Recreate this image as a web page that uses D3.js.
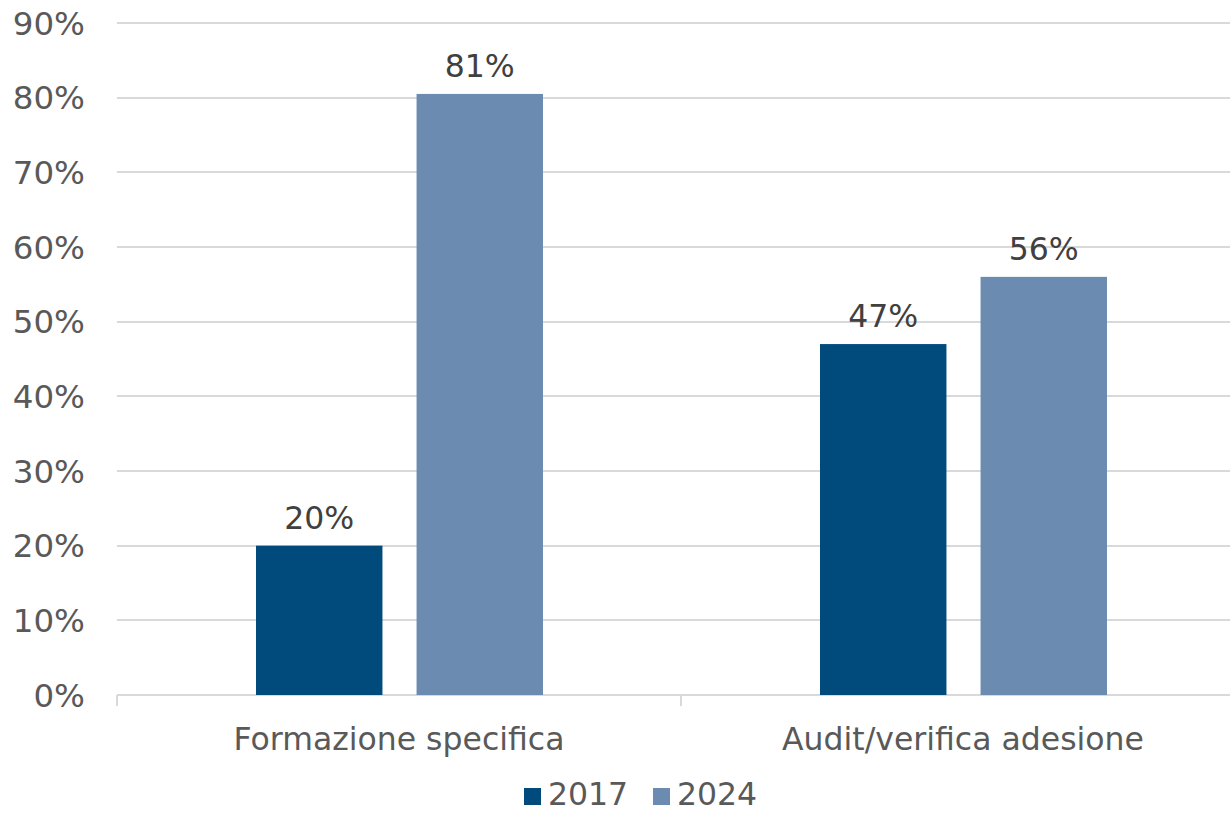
<!DOCTYPE html>
<html>
<head>
<meta charset="utf-8">
<script src="https://cdn.jsdelivr.net/npm/d3@7"></script>
<style>
  body { margin: 0; background: #fff; }
  text { font-family: Verdana, "DejaVu Sans", sans-serif; fill: #595959; }
</style>
</head>
<body>
<script>
// Width and height
var w = 1230;
var h = 813;

var categories = ["Formazione specifica", "Audit/verifica adesione"];
var seriesNames = ["2017", "2024"];
var values2017 = [20, 47];
var values2024 = [80.5, 56];
var labels2017 = ["20%", "47%"];
var labels2024 = ["81%", "56%"];
var yTicks = [0, 10, 20, 30, 40, 50, 60, 70, 80, 90];
var colors = ["#004a7c", "#6b8bb0"];

var plotLeft = 117, plotRight = 1245, plotTop = 23, plotBottom = 695;
var fs = "31.5px";

var xScale = d3.scaleBand()
  .domain(categories)
  .range([plotLeft, plotRight]);

// bars inside each band (126 wide, 34 apart)
var xInner = d3.scaleBand()
  .domain(seriesNames)
  .range([139, xScale.bandwidth() - 138])
  .paddingInner(34 / 160)
  .paddingOuter(0);

var yScale = d3.scaleLinear()
  .domain([0, 90])
  .range([plotBottom, plotTop]);

var svg = d3.select("body")
  .append("svg")
  .attr("width", w)
  .attr("height", h);

// gridlines
svg.selectAll("line.grid")
  .data(yTicks)
  .enter()
  .append("line")
  .attr("class", "grid")
  .attr("x1", plotLeft)
  .attr("x2", w)
  .attr("y1", function(d) { return Math.round(yScale(d)); })
  .attr("y2", function(d) { return Math.round(yScale(d)); })
  .attr("stroke", "#d9d9d9")
  .attr("stroke-width", 2);

// y tick labels
svg.selectAll("text.ytick")
  .data(yTicks)
  .enter()
  .append("text")
  .attr("class", "ytick")
  .attr("x", 85)
  .attr("y", function(d) { return yScale(d); })
  .attr("dy", "0.36em")
  .attr("text-anchor", "end")
  .attr("font-size", "32.5px")
  .text(function(d) { return d + "%"; });

// x-axis category ticks
var tickXs = [plotLeft, xScale(categories[1])];
svg.selectAll("line.xtick")
  .data(tickXs)
  .enter()
  .append("line")
  .attr("class", "xtick")
  .attr("x1", function(d) { return d; })
  .attr("x2", function(d) { return d; })
  .attr("y1", plotBottom)
  .attr("y2", plotBottom + 11)
  .attr("stroke", "#d9d9d9")
  .attr("stroke-width", 2);

var table = [values2017, values2024];
var labelTable = [labels2017, labels2024];

seriesNames.forEach(function(s, si) {
  var g = svg.append("g");
  g.selectAll("rect")
    .data(table[si])
    .enter()
    .append("rect")
    .attr("x", function(d, i) { return xScale(categories[i]) + xInner(s); })
    .attr("y", function(d) { return yScale(d); })
    .attr("width", xInner.bandwidth())
    .attr("height", function(d) { return plotBottom - yScale(d); })
    .attr("fill", colors[si]);

  g.selectAll("text")
    .data(table[si])
    .enter()
    .append("text")
    .attr("x", function(d, i) { return xScale(categories[i]) + xInner(s) + xInner.bandwidth() / 2; })
    .attr("y", function(d) { return yScale(d) - 17; })
    .attr("text-anchor", "middle")
    .attr("font-size", fs)
    .style("fill", "#404040")
    .text(function(d, i) { return labelTable[si][i]; });
});

// category labels
svg.selectAll("text.cat")
  .data(categories)
  .enter()
  .append("text")
  .attr("class", "cat")
  .attr("x", function(d) { return xScale(d) + xScale.bandwidth() / 2; })
  .attr("y", 750)
  .attr("text-anchor", "middle")
  .attr("font-size", fs)
  .text(function(d) { return d; });

// legend
var legendX = [524, 653];
var legend = svg.selectAll("g.legend")
  .data(seriesNames)
  .enter()
  .append("g")
  .attr("class", "legend")
  .attr("transform", function(d, i) { return "translate(" + legendX[i] + ",0)"; });

legend.append("rect")
  .attr("x", 0)
  .attr("y", 788)
  .attr("width", 17)
  .attr("height", 17)
  .attr("fill", function(d, i) { return colors[i]; });

legend.append("text")
  .attr("x", 24)
  .attr("y", 805)
  .attr("font-size", fs)
  .text(function(d) { return d; });
</script>
</body>
</html>
